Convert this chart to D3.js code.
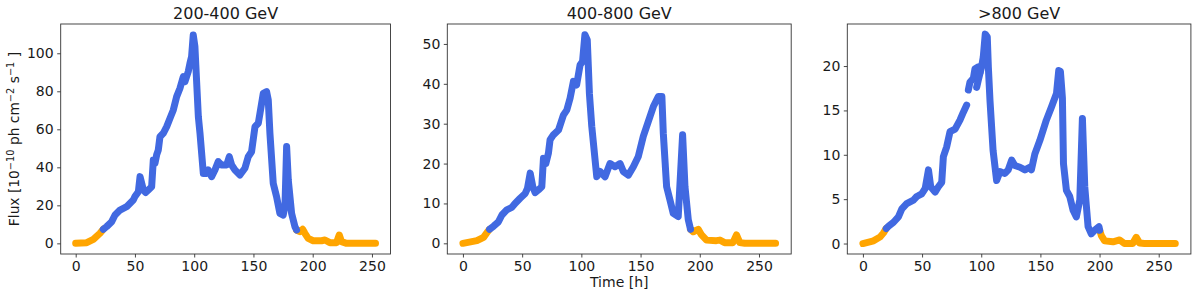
<!DOCTYPE html>
<html><head><meta charset="utf-8">
<script src="https://cdn.jsdelivr.net/npm/d3@7"></script>
<style>
body{margin:0;background:#fff}
svg{display:block}
text{font-family:"DejaVu Sans",sans-serif;fill:#1a1a1a}
</style>
</head><body>
<svg id="chart" width="1200" height="296"></svg>
<script>
const titles = ["200-400 GeV", "400-800 GeV", ">800 GeV"];
const xTicks = [0, 50, 100, 150, 200, 250];
const yTicks1 = [0, 20, 40, 60, 80, 100];
const yTicks2 = [0, 10, 20, 30, 40, 50];
const yTicks3 = [0, 5, 10, 15, 20];
const xDomain1 = [-12.65, 265.65];
const xDomain2 = [-13.2, 277.2];
const xDomain3 = [-13.2, 277.2];
const yDomain1 = [-5.6, 115.4];
const yDomain2 = [-2.68, 55.0];
const yDomain3 = [-1.18, 24.74];

// [time h, flux 1e-10 ph cm-2 s-1]
const p1Rise = [[0,0],[9.3,0.35],[14.9,2.1],[20.5,5.3],[23.3,7.4]];
const p1Main = [[23.3,7.4],[26.1,8.8],[30.4,11.4],[33.2,14.9],[37.4,17.5],[43.0,19.3],[48.6,22.8],[50.0,24.6],[52.9,27.2],[54.3,35.1],[57.1,28.1],[59.0,26.7],[61.3,28.1],[64.1,29.8],[65.5,43.9],[66.9,42.1],[68.3,46.5],[69.7,49.1],[71.1,56.1],[73.9,57.9],[76.8,61.4],[79.6,65.8],[82.4,70.2],[85.2,77.2],[88.0,81.6],[90.8,87.7],[92.2,85.1],[95.0,90.4],[96.4,94.7],[97.8,98.2],[99.2,109.6],[100.6,103.5],[103.5,66.7],[104.9,57.9],[107.7,36.8],[110.5,36.8],[111.9,38.6],[114.7,35.1],[117.5,38.6],[120.3,43.0],[123.1,41.2],[127.4,41.2],[129.6,45.6],[131.6,41.2],[134.4,38.6],[138.6,36.0],[142.8,39.5],[145.6,45.6],[148.4,48.2],[151.3,61.4],[154.1,63.2],[155.5,68.4],[158.3,78.9],[161.1,79.8],[162.5,75.4],[163.9,57.9],[166.7,31.6],[169.5,24.6],[172.3,15.8],[175.1,14.9],[176.6,19.3],[178.0,50.9],[179.4,33.3],[182.2,15.8],[185.0,8.8],[186.4,7.0]];
const p1Tail = [[186.4,7.0],[189.2,6.1],[191.5,7.4],[193.4,5.3],[196.2,2.6],[200.4,1.4],[207.5,1.4],[210.3,1.75],[214.5,0.35],[220.1,0.35],[222.4,4.4],[224.3,0.9],[228.6,0],[253,0]];

const p2Rise = [[0,0],[11.8,0.67],[17.4,1.5],[20.8,2.9],[22.5,3.5]];
const p2Main = [[22.5,3.5],[25.9,4.3],[30.0,5.4],[32.9,7.1],[37.0,8.4],[41.3,9.0],[44.0,10.0],[48.3,11.3],[52.6,12.5],[54.5,13.8],[56.8,17.6],[59.0,14.2],[61.0,12.7],[63.8,13.4],[66.6,14.2],[68.0,21.3],[70.0,20.0],[72.2,22.6],[73.6,26.0],[76.4,27.2],[80.7,28.4],[84.9,32.2],[87.7,33.4],[90.5,36.4],[93.3,40.6],[96.0,39.7],[98.9,44.7],[101.0,45.6],[103.0,52.3],[105.0,51.0],[106.8,37.6],[108.8,29.3],[113.0,16.7],[115.8,18.0],[120.0,16.7],[124.2,20.0],[128.4,19.2],[132.7,20.0],[135.5,18.0],[139.7,17.1],[143.9,19.2],[148.0,21.7],[152.3,26.8],[156.5,30.5],[160.8,34.3],[165.0,36.8],[168.0,36.8],[169.2,27.6],[172.0,14.2],[174.8,10.9],[177.6,7.5],[181.8,6.7],[185.5,27.2],[187.5,14.2],[190.3,5.9],[192.2,3.5]];
const p2Tail = [[192.2,3.5],[194.5,2.9],[198.7,3.5],[201.5,2.1],[205.7,0.8],[214.0,0.67],[217.0,0.8],[221.0,0.17],[228.0,0.17],[231.0,2.1],[233.8,0.17],[238.0,0],[264,0]];

const p3Rise = [[0,0],[9.0,0.3],[14.6,0.75],[17.4,1.2],[19.7,1.7]];
const p3MainA = [[19.7,1.7],[21.6,1.95],[25.9,2.4],[30.0,3.0],[32.9,3.9],[37.0,4.5],[42.7,4.9],[45.5,5.3],[49.7,5.6],[52.6,6.2],[55.4,8.3],[57.3,6.4],[61.0,5.8],[63.8,6.4],[66.6,6.9],[68.0,9.8],[70.8,10.9],[73.6,12.6],[77.9,12.9],[82.0,13.9],[84.9,14.8],[87.7,15.6]];
const p3MainB = [[89.1,17.3],[90.5,18.2],[93.3,18.6],[94.7,19.7],[97.5,19.9],[98.9,19.3]];
const p3MainC = [[96.1,17.6],[97.5,18.4],[100.3,19.9],[101.7,21.0],[103.4,23.6],[105.1,23.3],[106.0,19.9],[107.4,16.1],[110.0,10.5],[113.0,7.1],[115.8,8.1],[120.0,7.9],[122.8,8.3],[125.7,9.4],[128.4,8.8],[132.7,8.6],[136.9,8.3],[141.0,8.6],[142.4,8.3],[145.3,10.1],[149.5,11.6],[155.0,13.9],[159.4,15.4],[163.6,16.9],[165.5,19.5],[166.9,19.4],[168.0,17.5],[168.6,16.4],[169.5,9.0],[172.0,6.0],[174.8,5.3],[177.6,3.75],[180.4,3.0],[183.3,4.9],[185.5,14.1],[187.5,6.4],[190.3,1.9],[193.0,1.1],[195.9,1.5],[199.5,1.9],[200.1,1.5]];
const p3Tail = [[200.1,1.5],[201.5,0.9],[204.3,0.3],[211.4,0.19],[217.0,0.4],[221.0,0.0],[228.0,0.0],[231.0,0.7],[233.8,0.05],[238.0,0],[264,0]];

const BLUE = "#4169E1", ORANGE = "#FFA500";

const panels = [
  {title: titles[0], xDom: xDomain1, yDom: yDomain1, yTicks: yTicks1, left: 60.7, right: 390.5,
   segs: [[p1Rise, ORANGE], [p1Tail, ORANGE], [p1Main, BLUE]]},
  {title: titles[1], xDom: xDomain2, yDom: yDomain2, yTicks: yTicks2, left: 447.3, right: 791.2,
   segs: [[p2Rise, ORANGE], [p2Tail, ORANGE], [p2Main, BLUE]]},
  {title: titles[2], xDom: xDomain3, yDom: yDomain3, yTicks: yTicks3, left: 847.3, right: 1190.9,
   segs: [[p3Rise, ORANGE], [p3Tail, ORANGE], [p3MainA, BLUE], [p3MainB, BLUE], [p3MainC, BLUE]]}
];

const plotTop = 24, plotBottom = 254;
const svg = d3.select("#chart");

panels.forEach((p, i) => {
  const x = d3.scaleLinear().domain(p.xDom).range([p.left, p.right]);
  const y = d3.scaleLinear().domain(p.yDom).range([plotBottom, plotTop]);
  const g = svg.append("g");

  const line = d3.line().x(d => x(d[0])).y(d => y(d[1]));
  p.segs.forEach(([data, color]) => {
    g.append("path").datum(data).attr("d", line)
      .attr("fill", "none").attr("stroke", color)
      .attr("stroke-width", 7).attr("stroke-linejoin", "round").attr("stroke-linecap", "round");
  });

  const xa = g.append("g").attr("transform", `translate(0,${plotBottom})`)
    .call(d3.axisBottom(x).tickValues(xTicks).tickSize(3.5).tickPadding(3.5));
  const ya = g.append("g").attr("transform", `translate(${p.left},0)`)
    .call(d3.axisLeft(y).tickValues(p.yTicks).tickSize(3.5).tickPadding(3.5));
  [xa, ya].forEach(a => {
    a.select(".domain").remove();
    a.selectAll("line").attr("stroke", "#333").attr("stroke-width", 0.9);
    a.selectAll("text").attr("font-size", "14px").attr("font-family", "DejaVu Sans").attr("fill", "#1a1a1a");
  });

  g.append("rect").attr("x", p.left).attr("y", plotTop)
    .attr("width", p.right - p.left).attr("height", plotBottom - plotTop)
    .attr("fill", "none").attr("stroke", "#333").attr("stroke-width", 0.9);

  g.append("text").attr("x", (p.left + p.right) / 2).attr("y", 19)
    .attr("text-anchor", "middle").attr("font-size", "16px").text(p.title);
});

// y label
const yl = svg.append("text")
  .attr("transform", `translate(19,${(plotTop + plotBottom) / 2}) rotate(-90)`)
  .attr("text-anchor", "middle").attr("font-size", "13.8px");
yl.append("tspan").text("Flux [10");
yl.append("tspan").attr("font-size", "9.8px").attr("dy", -5.5).text("\u221210");
yl.append("tspan").attr("dy", 5.5).text(" ph cm");
yl.append("tspan").attr("font-size", "9.8px").attr("dy", -5.5).text("\u22122");
yl.append("tspan").attr("dy", 5.5).text(" s");
yl.append("tspan").attr("font-size", "9.8px").attr("dy", -5.5).text("\u22121");
yl.append("tspan").attr("dy", 5.5).text(" ]");

svg.append("text").attr("x", (panels[1].left + panels[1].right) / 2).attr("y", 287)
  .attr("text-anchor", "middle").attr("font-size", "14px").text("Time [h]");
</script>
</body></html>
